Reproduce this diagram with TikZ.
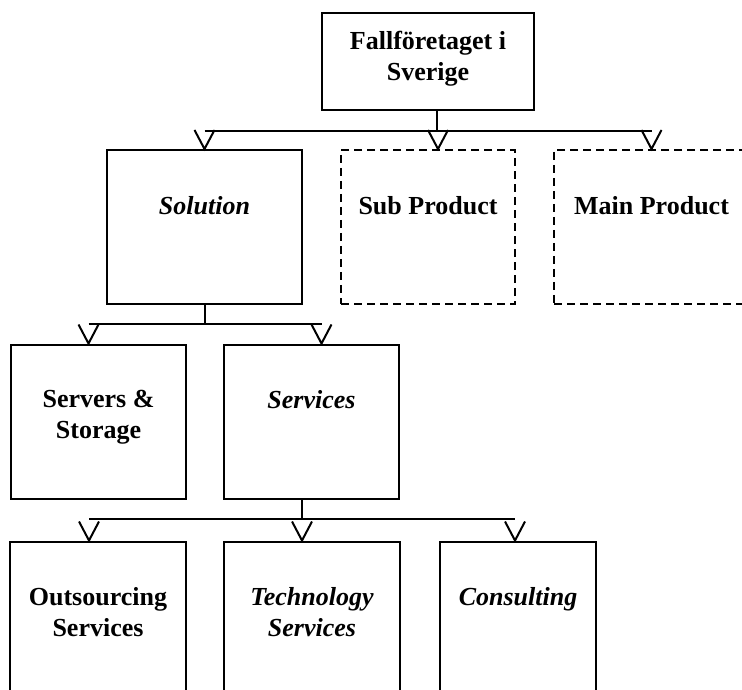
\documentclass[tikz,border=0pt]{standalone}
\usepackage{fontspec}
\setmainfont{Liberation Serif}
\usetikzlibrary{positioning}

\begin{document}
\begin{tikzpicture}[x=0.5pt,y=-0.5pt,line width=1pt,font=\fontsize{13}{15.5}\selectfont\bfseries,node distance=23pt]
\tikzset{unit/.style={draw,inner sep=0pt,minimum height=77pt,minimum width=#1},
         open/.style={unit=#1,dash pattern=on 4pt off 2.5pt},
         lbl/.style={inner sep=0pt,align=center},
         ilbl/.style={lbl,font=\fontsize{13}{15.5}\selectfont\bfseries\itshape},
         vtip/.pic={\draw (-10,-19) -- (0,0) -- (10,-19);}}
\useasboundingbox (0,0) rectangle (742,689);
\clip (0,0) rectangle (742,689);
% org units
\node[unit=106pt,minimum height=48.5pt] (top) at (428,61.5) {};
\node[unit=97.5pt] (sol) at (204.5,227) {};
\node[open=87pt] (sub) at (428,227) {};
\node[open=97.5pt] (main) at (651.5,227) {};
\node[unit=87.5pt] (srv) at (98.5,421.5) {};
\node[unit=87.5pt] (svc) at (311.5,421.5) {};
\node[unit=88pt] (out) at (98,618.5) {};
\node[unit=88pt] (tech) at (312,618.5) {};
\node[unit=78pt] (cons) at (518,618.5) {};
% names
\node[lbl,below=9pt of top.north] (topt) {Fallföretaget i\\Sverige};
\node[ilbl,below=of sol.north] (solt) {Solution};
\node[lbl,below=of sub.north] (subt) {Sub Product};
\node[lbl,below=of main.north] (maint) {Main Product};
\node[lbl,below=of srv.north] (srvt) {Servers \&\\Storage};
\node[ilbl,below=of svc.north] (svct) {Services};
\node[lbl,below=of out.north] (outt) {Outsourcing\\Services};
\node[ilbl,below=of tech.north] (techt) {Technology\\Services};
\node[ilbl,below=of cons.north] (const) {Consulting};
% level 1
\coordinate (j1) at (437,131);
\draw (top.south -| j1) -- (j1);
\draw (sol.north |- j1) -- (main.north |- j1);
\pic at (sol.north) {vtip};
\pic at ([xshift=5pt]sub.north) {vtip};
\pic at (main.north) {vtip};
% level 2
\coordinate (j2) at (205,324);
\draw (sol.south -| j2) -- (j2);
\draw ([xshift=-5pt]srv.north |- j2) -- ([xshift=5pt]svc.north |- j2);
\pic at ([xshift=-5pt]srv.north) {vtip};
\pic at ([xshift=5pt]svc.north) {vtip};
% level 3
\coordinate (j3) at (302,519);
\draw (svc.south -| j3) -- (j3);
\draw ([xshift=-4.5pt]out.north |- j3) -- ([xshift=-1.5pt]cons.north |- j3);
\pic at ([xshift=-4.5pt]out.north) {vtip};
\pic at ([xshift=-5pt]tech.north) {vtip};
\pic at ([xshift=-1.5pt]cons.north) {vtip};
\end{tikzpicture}
\end{document}
